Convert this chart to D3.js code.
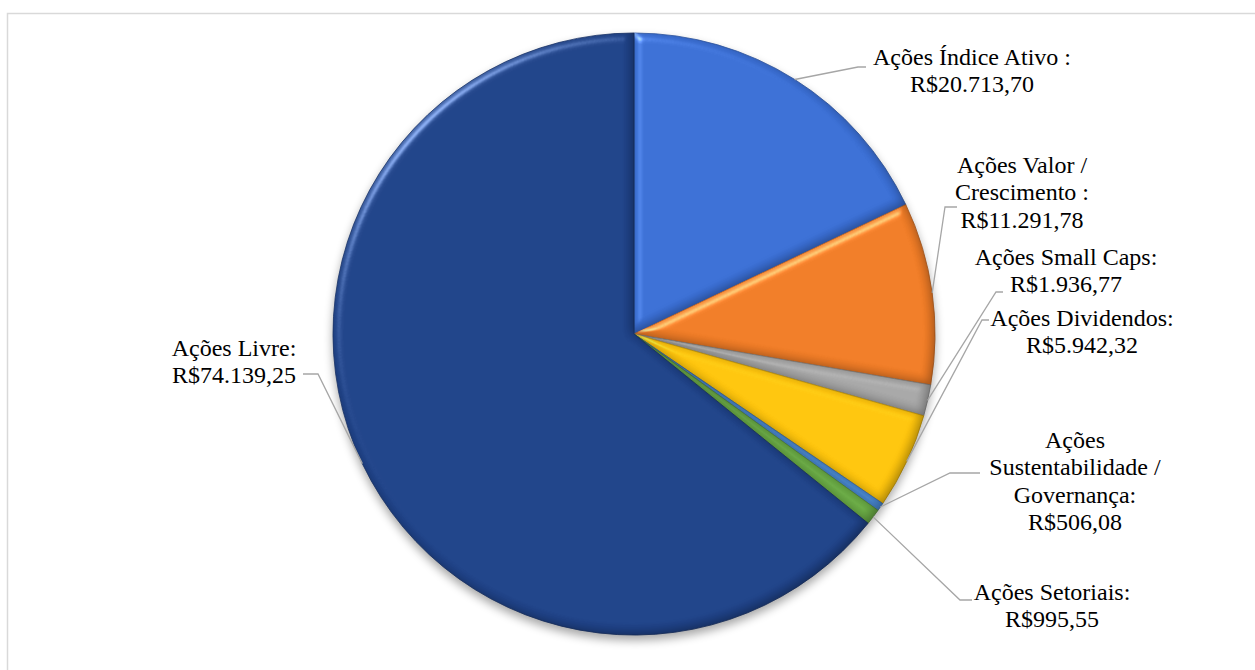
<!DOCTYPE html>
<html>
<head>
<meta charset="utf-8">
<script src="https://cdn.jsdelivr.net/npm/d3@7/dist/d3.min.js"></script>
<style>
  body { margin: 0; background: #fff; }
  text { font-family: "Liberation Serif", "Times New Roman", serif; fill: #000; }
</style>
</head>
<body>
<div id="container"></div>
<script>
// data
let categories = ["Ações Índice Ativo", "Ações Valor / Crescimento", "Ações Small Caps",
  "Ações Dividendos", "Ações Sustentabilidade / Governança", "Ações Setoriais", "Ações Livre"];
let values = [20713.70, 11291.78, 1936.77, 5942.32, 506.08, 995.55, 74139.25];
let labelLines = [
  ["Ações Índice Ativo :", "R$20.713,70"],
  ["Ações Valor /", "Crescimento :", "R$11.291,78"],
  ["Ações Small Caps:", "R$1.936,77"],
  ["Ações Dividendos:", "R$5.942,32"],
  ["Ações", "Sustentabilidade /", "Governança:", "R$506,08"],
  ["Ações Setoriais:", "R$995,55"],
  ["Ações Livre:", "R$74.139,25"]
];
let colors = ["#3a6ed3", "#ee7b26", "#a5a5a5", "#fcc30c", "#4a8bd6", "#6aab45", "#1f4287"];

// layout of labels: text centre x, first baseline y, leader elbow, leader end
let labelPos = [
  {x: 972, y: 65, elbow: [858, 67], end: [866, 67]},
  {x: 1022, y: 173, elbow: [945, 207], end: [957, 207]},
  {x: 1066, y: 265, elbow: [996, 292], end: [1003, 292]},
  {x: 1082, y: 326, elbow: [982, 320], end: [989, 320]},
  {x: 1075, y: 448, elbow: [950, 473], end: [980, 473]},
  {x: 1052, y: 600, elbow: [960, 600], end: [972, 600]},
  {x: 234, y: 356, elbow: [318, 374], end: [303, 374]}
];

let w = 1255;
let h = 670;
let cx = 634;
let cy = 334;
let r = 301;
let lineH = 27.4;

let svg = d3.select("#container")
  .append("svg")
  .attr("width", w)
  .attr("height", h);

let defs = svg.append("defs");

// bevel look, roughly like the office preset: light only hits the rim
let bevel = defs.append("filter").attr("id", "bevel")
  .attr("color-interpolation-filters", "sRGB")
  .attr("x", "-10%").attr("y", "-10%").attr("width", "120%").attr("height", "120%");
bevel.append("feGaussianBlur").attr("in", "SourceAlpha").attr("stdDeviation", 4).attr("result", "blur");
let spec = bevel.append("feSpecularLighting")
  .attr("in", "blur").attr("surfaceScale", 6).attr("specularConstant", 0.6)
  .attr("specularExponent", 22).attr("lighting-color", "#ffffff").attr("result", "spec");
spec.append("feDistantLight").attr("azimuth", 225).attr("elevation", 28);
bevel.append("feComposite").attr("in", "spec").attr("in2", "SourceAlpha").attr("operator", "in").attr("result", "specOut");
// dark rim on the far side
bevel.append("feOffset").attr("in", "blur").attr("dx", -3).attr("dy", -3).attr("result", "off");
bevel.append("feComposite").attr("in", "SourceAlpha").attr("in2", "off").attr("operator", "out").attr("result", "rim");
bevel.append("feFlood").attr("flood-color", "#000").attr("flood-opacity", 0.3).attr("result", "dark");
bevel.append("feComposite").attr("in", "dark").attr("in2", "rim").attr("operator", "in").attr("result", "rimDark");
bevel.append("feComposite").attr("in", "SourceGraphic").attr("in2", "specOut")
  .attr("operator", "arithmetic").attr("k1", 0).attr("k2", 1).attr("k3", 0.7).attr("k4", 0).attr("result", "lit");
let bm = bevel.append("feMerge");
bm.append("feMergeNode").attr("in", "lit");
bm.append("feMergeNode").attr("in", "rimDark");

let shadow = defs.append("filter").attr("id", "shadow")
  .attr("color-interpolation-filters", "sRGB")
  .attr("x", "-10%").attr("y", "-10%").attr("width", "120%").attr("height", "125%");
shadow.append("feGaussianBlur").attr("in", "SourceAlpha").attr("stdDeviation", 5).attr("result", "b");
shadow.append("feOffset").attr("in", "b").attr("dy", 5).attr("result", "o");
shadow.append("feComponentTransfer").attr("in", "o").attr("result", "s")
  .append("feFuncA").attr("type", "linear").attr("slope", 0.35);
let merge = shadow.append("feMerge");
merge.append("feMergeNode").attr("in", "s");
merge.append("feMergeNode").attr("in", "SourceGraphic");

// chart border
svg.append("rect")
  .attr("x", 7.5).attr("y", 13.5)
  .attr("width", w).attr("height", h)
  .attr("fill", "none")
  .attr("stroke", "#d9d9d9")
  .attr("stroke-width", 1.5);

let pie = d3.pie().sort(null).value(d => d)(values);
let arc = d3.arc().innerRadius(0).outerRadius(r);
let edgeArc = d3.arc().innerRadius(r).outerRadius(r);

let g = svg.append("g")
  .attr("transform", "translate(" + cx + "," + cy + ")")
  .attr("filter", "url(#shadow)");

g.selectAll(".slice").data(pie).enter()
  .append("path")
  .attr("class", "slice")
  .attr("d", arc)
  .attr("fill", (d, i) => colors[i])
  .attr("stroke", (d, i) => d3.color(colors[i]).darker(0.6))
  .attr("stroke-width", 0.8)
  .attr("filter", "url(#bevel)");

// leader lines
svg.selectAll(".leader").data(pie).enter()
  .append("polyline")
  .attr("class", "leader")
  .attr("points", (d, i) => {
    let c = edgeArc.centroid(d);
    let p = labelPos[i];
    return [[cx + c[0], cy + c[1]], p.elbow, p.end].map(q => q.join(",")).join(" ");
  })
  .attr("fill", "none")
  .attr("stroke", "#a6a6a6")
  .attr("stroke-width", 1.3);

// labels
let labels = svg.selectAll(".lbl").data(pie).enter()
  .append("text")
  .attr("class", "lbl")
  .attr("text-anchor", "middle")
  .attr("font-size", 24);

labels.each(function (d, i) {
  let t = d3.select(this);
  labelLines[i].forEach((s, k) => {
    t.append("tspan")
      .attr("x", labelPos[i].x)
      .attr("y", labelPos[i].y + k * lineH)
      .text(s);
  });
});
</script>
</body>
</html>
